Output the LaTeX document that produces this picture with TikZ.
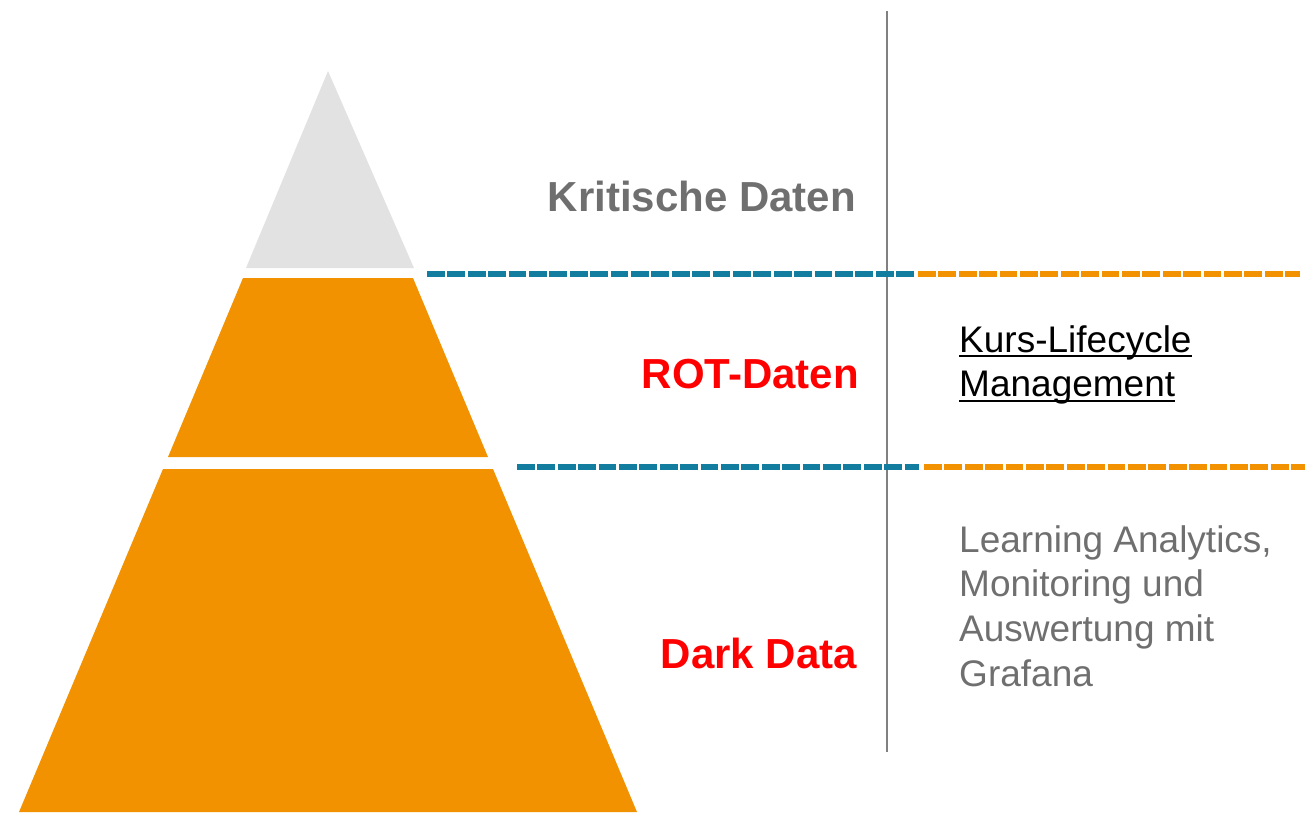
\documentclass[tikz,border=0pt]{standalone}
\usepackage{fontspec}
\setmainfont{Liberation Sans}
\definecolor{pyor}{HTML}{F39200}
\definecolor{pygray}{HTML}{E2E2E2}
\definecolor{dashblue}{HTML}{127D9F}
\definecolor{txtgray}{HTML}{6F6F6F}
\definecolor{vgray}{HTML}{808080}
\definecolor{rotred}{HTML}{FF0000}
\newcommand\myul[1]{\setbox0\hbox{#1}\rlap{\rule[-4.8pt]{\wd0}{1.5pt}}\box0}
\tikzset{
  boldlbl/.style={anchor=base east, inner sep=0pt, font=\fontsize{42}{50}\selectfont\bfseries},
  reglbl/.style={anchor=base west, inner sep=0pt, align=left, font=\fontsize{37}{44.8}\selectfont},
  dashline/.style={line width=5.5pt, dash pattern=on 17.8pt off 2.6pt},
}
\begin{document}
\begin{tikzpicture}[x=1pt,y=-1pt]
\useasboundingbox (0,0) rectangle (1311,812);
% pyramid
\fill[pygray] (328,71) -- (414,268) -- (246,268) -- cycle;
\fill[pyor] (243,278) -- (413,278) -- (488,457) -- (168,457) -- cycle;
\fill[pyor] (163,469) -- (493,469) -- (637,812) -- (19,812) -- cycle;
% vertical divider
\coordinate (vtop) at (887,11);
\coordinate (vbot) at (887,752);
\draw[vgray, line width=2pt] (vtop) -- (vbot);
% dashed lines
\coordinate (d1a) at (427,274);
\coordinate (d1b) at (914,274);
\coordinate (d1c) at (918,274);
\coordinate (d1d) at (1300,274);
\coordinate (d2a) at (517,467);
\coordinate (d2b) at (919,467);
\coordinate (d2c) at (924,467);
\coordinate (d2d) at (1305,467);
\draw[dashline, dashblue] (d1a) -- (d1b);
\draw[dashline, pyor] (d1c) -- (d1d);
\draw[dashline, dashblue] (d2a) -- (d2b);
\draw[dashline, pyor] (d2c) -- (d2d);
% labels
\node[boldlbl, text=txtgray] (krit) at (856,211) {Kritische Daten};
\node[boldlbl, text=rotred] (rot) at (859,388) {ROT-Daten};
\node[boldlbl, text=rotred] (dark) at (857,668) {Dark Data};
\node[reglbl, text=black] (kurs) at (959,396.8) {\myul{Kurs-Lifecycle}\\\myul{Management}};
\node[reglbl, text=txtgray] (learn) at (959,686.4) {Learning Analytics,\\Monitoring und\\Auswertung mit\\Grafana};
\end{tikzpicture}
\end{document}
